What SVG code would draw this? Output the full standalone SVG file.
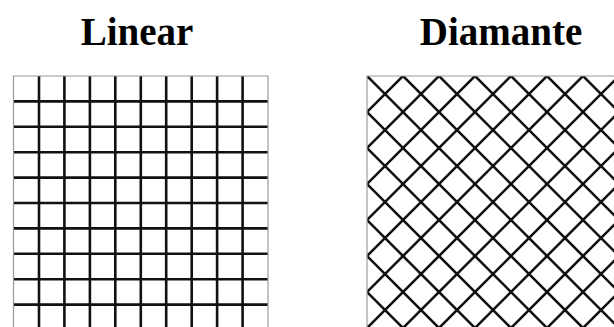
<svg xmlns="http://www.w3.org/2000/svg" width="614" height="327" viewBox="0 0 614 327">
<style>
.title{font-family:"Liberation Serif","Times New Roman",serif;font-weight:bold;font-size:39px;fill:#000}
.border{stroke:#9a9a9a;stroke-width:1.2;fill:none}
.bar{stroke:#111;stroke-width:2.6;fill:none}
</style>
<defs>
<clipPath id="clipL"><rect x="13.5" y="76" width="255" height="260"/></clipPath>
<clipPath id="clipD"><rect x="367" y="76" width="260" height="260"/></clipPath>
</defs>
<rect width="614" height="327" fill="#fff"/>
<g id="linear">
<text class="title" x="137" y="45" text-anchor="middle">Linear</text>
<g clip-path="url(#clipL)">
<path class="bar" d="M39,76V327M64.4,76V327M89.9,76V327M115.3,76V327M140.8,76V327M166.2,76V327M191.7,76V327M217.1,76V327M242.6,76V327"/>
<path class="bar" d="M13.5,101.4H268M13.5,126.8H268M13.5,152.2H268M13.5,177.6H268M13.5,203H268M13.5,228.4H268M13.5,253.8H268M13.5,279.2H268M13.5,304.6H268"/>
</g>
<path class="border" d="M13.5,327V76H268V327"/>
</g>
<g id="diamante">
<text class="title" x="501" y="45" text-anchor="middle">Diamante</text>
<g clip-path="url(#clipD)">
<path class="bar" d="M443,0L0,443M479,0L0,479M515,0L0,515M551,0L0,551M587,0L0,587M623,0L0,623M659,0L0,659M695,0L0,695M731,0L0,731M767,0L0,767M803,0L0,803M839,0L0,839M875,0L0,875M911,0L0,911M947,0L0,947"/>
<path class="bar" d="M39,0L439,400M75,0L475,400M111,0L511,400M147,0L547,400M183,0L583,400M219,0L619,400M255,0L655,400M291,0L691,400M327,0L727,400M363,0L763,400M399,0L799,400M435,0L835,400M471,0L871,400M507,0L907,400M543,0L943,400M579,0L979,400"/>
</g>
<path class="border" d="M367,327V76H614"/>
</g>
</svg>
